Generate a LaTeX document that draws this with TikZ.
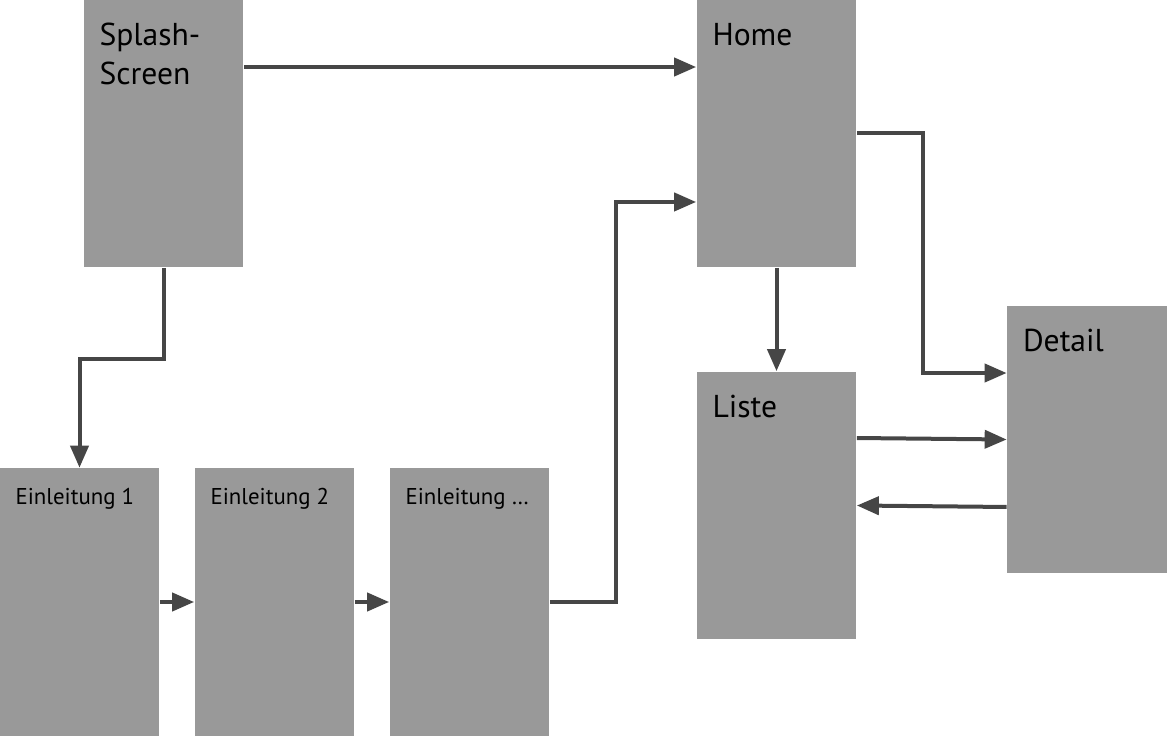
\documentclass[tikz,border=0pt]{standalone}
\usepackage{fontspec}
\setmainfont{PT Sans}
\usetikzlibrary{arrows.meta}
\definecolor{boxgray}{HTML}{999999}
\definecolor{linegray}{HTML}{464646}
\begin{document}
\begin{tikzpicture}[x=0.02cm, y=-0.02cm,
    screen/.style={rectangle, fill=boxgray, inner sep=0pt,
      minimum width=3.2cm, minimum height=5.36cm},
    big/.style={anchor=base west, inner sep=0pt, align=left,
      font=\fontsize{18}{22.2}\selectfont},
    small/.style={anchor=base west, inner sep=0pt,
      font=\fontsize{13}{15}\selectfont}]
    \useasboundingbox (0,0) rectangle (1167,736);
    \begin{scope}[every node/.style={screen}]
      \node (splash) at (163.5,133.5) {};
      \node (home) at (776.5,133.5) {};
      \node (liste) at (776.5,505.5) {};
      \node (detail) at (1087,439.5) {};
      \node (e1) at (79.5,602) {};
      \node (e2) at (274.5,602) {};
      \node (e3) at (469.5,602) {};
    \end{scope}

    % base anchor of a two-line node sits on its last line
    \node [big] (splash-t) at ([shift={(16,85)}]splash.north west) {Splash-\\Screen};
    \node [big] (home-t) at ([shift={(16,46)}]home.north west) {Home};
    \node [big] (liste-t) at ([shift={(16,46)}]liste.north west) {Liste};
    \node [big] (detail-t) at ([shift={(16,46)}]detail.north west) {Detail};
    \node [small] (e1-t) at ([shift={(16,37)}]e1.north west) {Einleitung 1};
    \node [small] (e2-t) at ([shift={(16,37)}]e2.north west) {Einleitung 2};
    \node [small] (e3-t) at ([shift={(16,37)}]e3.north west) {Einleitung \dots};

    \begin{scope}[-{Triangle[length=0.44cm, width=0.36cm]}, draw=linegray,
        line width=0.08cm]
      \draw ([yshift=1.33cm]splash.east) -- ([yshift=1.33cm]home.west);
      \draw (splash.south) -- ++(0,91) -| (e1.north);
      \draw (e1.east) -- (e2.west);
      \draw (e2.east) -- (e3.west);
      \draw (e3.east) -- ++(66,0) |- ([yshift=-1.37cm]home.west);
      \draw (home.south) -- (liste.north);
      \draw (home.east) -- ++(66,0) |- ([yshift=1.33cm]detail.west);
      \draw ([yshift=1.35cm]liste.east) -- (detail.west);
      \draw ([yshift=-1.35cm]detail.west) -- (liste.east);
    \end{scope}
  \end{tikzpicture}
\end{document}
